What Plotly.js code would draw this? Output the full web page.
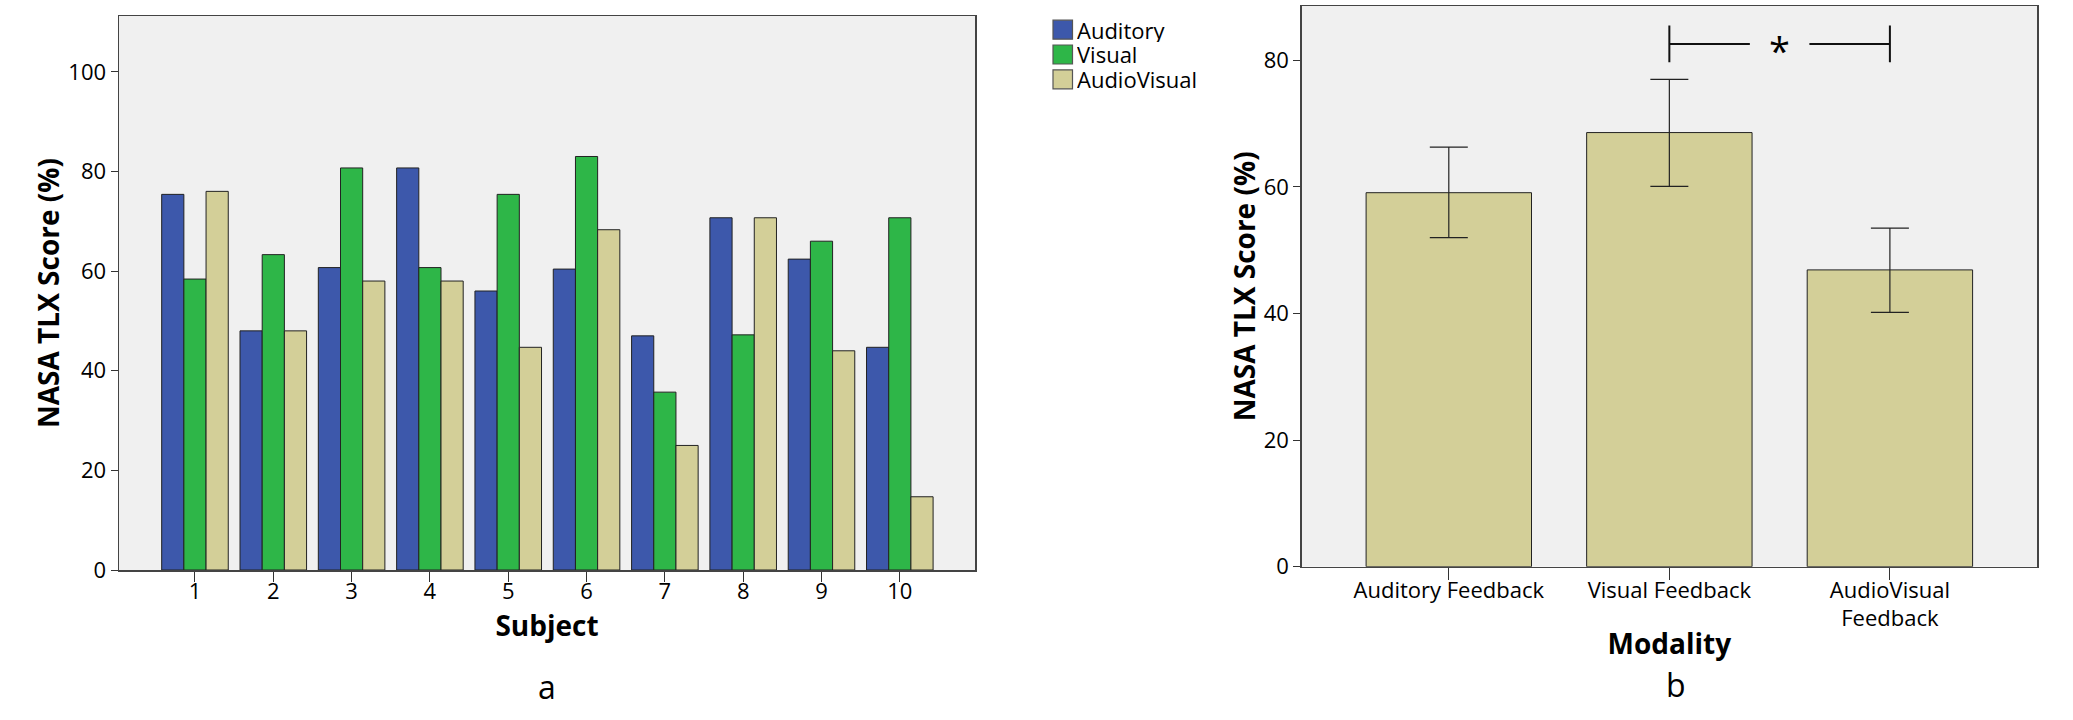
<!DOCTYPE html>
<html>
<head>
<meta charset="utf-8">
<script src="https://cdn.plot.ly/plotly-3.0.1.min.js"></script>
<style>
  html, body { margin: 0; padding: 0; background: #fff; }
  #plot { width: 2073px; height: 720px; }
</style>
</head>
<body>
<div id="plot"></div>
<script>
// panel a: per-subject scores
const subjects = [1, 2, 3, 4, 5, 6, 7, 8, 9, 10];
const auditory = [75.4, 48.0, 60.7, 80.7, 56.0, 60.4, 47.0, 70.7, 62.4, 44.7];
const visual = [58.4, 63.3, 80.7, 60.7, 75.4, 83.0, 35.7, 47.2, 66.0, 70.7];
const audioVisual = [76.0, 48.0, 58.0, 58.0, 44.7, 68.3, 25.0, 70.7, 44.0, 14.7];
const seriesNames = ["Auditory", "Visual", "AudioVisual"];
const seriesColors = ["#3d58ab", "#2eb648", "#d3cf98"];

// panel b: mean per modality with error bars
const modalities = ["Auditory Feedback", "Visual Feedback", "AudioVisual<br>Feedback"];
const modalityMeans = [59.1, 68.6, 46.9];
const modalityUpper = [66.3, 77.0, 53.5];
const modalityLower = [52.0, 60.1, 40.2];

// significance bracket between Visual and AudioVisual
const sigPair = [1, 2];
const sigLevel = 82.6;
const sigLabel = "*";

const W = 2073, H = 720;
const px = (v) => v / W;          // pixel x -> paper
const py = (v) => (H - v) / H;    // pixel y (from top) -> paper

const fontFamily = '"Open Sans", sans-serif';
const tickFont = { family: fontFamily, size: 22, color: "#000" };
const titleFont = { family: fontFamily, size: 28, color: "#000", weight: "bold" };
const outline = { color: "#222", width: 1 };

const seriesValues = [auditory, visual, audioVisual];
const traces = seriesValues.map((vals, i) => ({
  type: "bar",
  name: seriesNames[i],
  x: subjects,
  y: vals,
  xaxis: "x",
  yaxis: "y",
  marker: { color: seriesColors[i], line: outline },
  hoverinfo: "skip",
}));

traces.push({
  type: "bar",
  x: modalities,
  y: modalityMeans,
  xaxis: "x2",
  yaxis: "y2",
  width: 0.75,
  marker: { color: seriesColors[2], line: outline },
  error_y: {
    type: "data",
    symmetric: false,
    array: modalityUpper.map((u, i) => u - modalityMeans[i]),
    arrayminus: modalityLower.map((l, i) => modalityMeans[i] - l),
    color: "#222",
    thickness: 1.2,
    width: 19,
  },
  hoverinfo: "skip",
});

const axisCommon = {
  showline: true,
  linecolor: "#444",
  linewidth: 1.5,
  mirror: true,
  showgrid: false,
  zeroline: false,
  ticks: "outside",
  tickcolor: "#333",
  tickfont: tickFont,
};

// hand-made legend (SPSS style: square swatch hugging the text)
const shapes = [];
const annotations = [];
seriesNames.forEach((name, i) => {
  const yc = 29.7 + i * 24.8;
  shapes.push({
    type: "rect", xref: "paper", yref: "paper",
    x0: px(1053), x1: px(1072.5), y0: py(yc + 9.5), y1: py(yc - 9.5),
    fillcolor: seriesColors[i], line: { color: "#555", width: 1.2 },
  });
  annotations.push({
    xref: "paper", yref: "paper", x: px(1075), y: py(yc),
    xanchor: "left", yanchor: "middle", showarrow: false,
    height: 24, valign: "middle",
    text: name, font: tickFont,
  });
});

// significance bracket
const sigMid = (sigPair[0] + sigPair[1]) / 2;
const sigLine = { color: "#111", width: 2 };
[sigPair[0], sigPair[1]].forEach((c) => {
  shapes.push({ type: "line", xref: "x2", yref: "y2", x0: c, x1: c, y0: sigLevel - 2.9, y1: sigLevel + 2.9, line: sigLine });
});
shapes.push({ type: "line", xref: "x2", yref: "y2", x0: sigPair[0], x1: sigMid - 0.135, y0: sigLevel, y1: sigLevel, line: sigLine });
shapes.push({ type: "line", xref: "x2", yref: "y2", x0: sigMid + 0.135, x1: sigPair[1], y0: sigLevel, y1: sigLevel, line: sigLine });
annotations.push({
  xref: "x2", yref: "y2", x: sigMid, y: sigLevel, yshift: -6,
  xanchor: "center", yanchor: "middle",
  showarrow: false, text: sigLabel,
  font: { family: fontFamily, size: 38, color: "#000" },
});

// panel captions
const captionFont = { family: fontFamily, size: 32, color: "#000" };
annotations.push({ xref: "paper", yref: "paper", x: px(547), y: py(686), xanchor: "center", yanchor: "middle", showarrow: false, text: "a", font: captionFont });
annotations.push({ xref: "paper", yref: "paper", x: px(1676), y: py(684), xanchor: "center", yanchor: "middle", showarrow: false, text: "b", font: captionFont });

const layout = {
  width: W,
  height: H,
  margin: { l: 0, r: 0, t: 0, b: 0 },
  paper_bgcolor: "#ffffff",
  plot_bgcolor: "#f0f0f0",
  showlegend: false,
  barmode: "group",
  bargap: 0.15,
  bargroupgap: 0,
  font: tickFont,
  xaxis: {
    ...axisCommon,
    anchor: "y",
    domain: [px(119), px(975)],
    range: [0.03, 10.96],
    tickvals: subjects,
    ticklen: 10,
    ticklabelstandoff: -9,
    title: { text: "Subject", font: titleFont, standoff: 12 },
  },
  yaxis: {
    ...axisCommon,
    anchor: "x",
    domain: [py(570), py(16)],
    range: [0, 111.2],
    tickvals: [0, 20, 40, 60, 80, 100],
    ticklen: 7,
    title: { text: "NASA TLX Score (%)", font: titleFont, standoff: 0 },
  },
  xaxis2: {
    ...axisCommon,
    anchor: "y2",
    domain: [px(1301.7), px(2037)],
    range: [-0.667, 2.667],
    type: "category",
    ticklen: 12,
    ticklabelstandoff: -9,
    title: { text: "Modality", font: titleFont, standoff: 3 },
  },
  yaxis2: {
    ...axisCommon,
    anchor: "x2",
    domain: [py(566.7), py(6)],
    range: [0, 88.6],
    tickvals: [0, 20, 40, 60, 80],
    ticklen: 7,
    title: { text: "NASA TLX Score (%)", font: titleFont, standoff: 0 },
  },
  shapes,
  annotations,
};

Plotly.newPlot(document.querySelector("#plot"), traces, layout, {
  displayModeBar: false,
  staticPlot: true,
});
</script>
</body>
</html>
